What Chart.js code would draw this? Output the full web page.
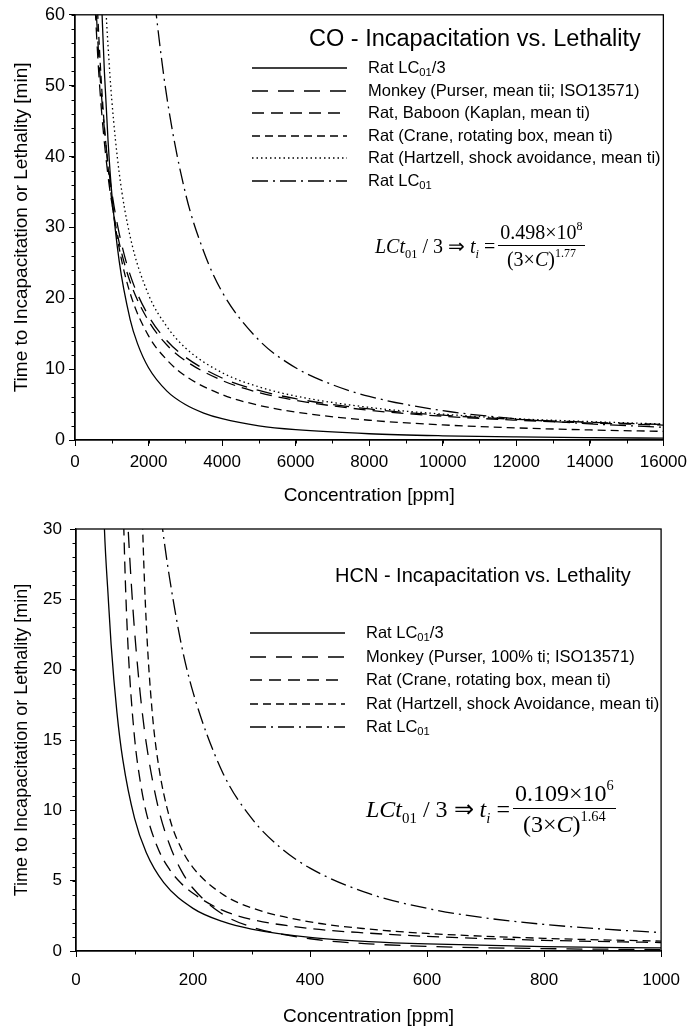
<!DOCTYPE html>
<html>
<head>
<meta charset="utf-8">
<script src="https://cdn.jsdelivr.net/npm/chart.js@4.4.1/dist/chart.umd.min.js"></script>
<style>
  html, body { margin: 0; padding: 0; background: #fff; }
  body { width: 693px; height: 1030px; position: relative; overflow: hidden;
         font-family: 'Liberation Sans', Arial, sans-serif; color: #000; }
  canvas { position: absolute; left: 0; }
  .ttl { position: absolute; white-space: nowrap; line-height: 1; }
  .legend { position: absolute; font-size: 16.5px; line-height: 1; }
  .legend .row { position: absolute; left: 0; white-space: nowrap; height: 18px; }
  .legend svg { position: absolute; left: 0; top: 4px; }
  .legend .lbl { position: absolute; left: 116px; top: 0; }
  .legend sub { font-size: 0.68em; vertical-align: -0.3em; line-height: 0; }
  .eq { position: absolute; font-family: 'Liberation Serif', 'Times New Roman', serif;
        white-space: nowrap; display: flex; align-items: center; line-height: 1.1; }
  .eq sub { font-size: 0.62em; vertical-align: -0.4em; line-height: 0; font-style: normal; }
  .eq i sub { font-style: italic; }
  .eq sup { font-size: 0.6em; vertical-align: 0.75em; line-height: 0; }
  .frac { display: inline-flex; flex-direction: column; align-items: center; margin-left: 3px; }
  .frac .num { border-bottom: 1.2px solid #000; padding: 0 2px 2px 2px; }
  .frac .den { padding-top: 2px; }
</style>
</head>
<body>
<canvas id="coChart" width="693" height="510" style="top:0;width:693px;height:510px"></canvas>
<canvas id="hcnChart" width="693" height="520" style="top:510px;width:693px;height:520px"></canvas>

<div class="ttl" style="left:309px;top:27px;font-size:23.5px">CO - Incapacitation vs. Lethality</div>
<div class="legend" id="coLegend" style="left:252px;top:59px"></div>
<div class="eq" id="coEq" style="left:375px;top:221px;font-size:20px">
  <span><i>LCt</i><sub>01</sub> / 3 ⇒ <i>t<sub>i</sub></i> =</span>
  <span class="frac"><span class="num">0.498×10<sup>8</sup></span><span class="den">(3×<i>C</i>)<sup>1.77</sup></span></span>
</div>

<div class="ttl" style="left:335px;top:565px;font-size:20px">HCN - Incapacitation vs. Lethality</div>
<div class="legend" id="hcnLegend" style="left:250px;top:624px"></div>
<div class="eq" id="hcnEq" style="left:366px;top:780px;font-size:24px">
  <span><i>LCt</i><sub>01</sub> / 3 ⇒ <i>t<sub>i</sub></i> =</span>
  <span class="frac"><span class="num">0.109×10<sup>6</sup></span><span class="den">(3×<i>C</i>)<sup>1.64</sup></span></span>
</div>

<script>
'use strict';

// ── CO DATA (concentration ppm -> time min) ──────────────────────
const coRatLc3X  = [700, 750, 800, 900, 1000, 1200, 1500, 1700, 2000, 2500, 3000, 3500, 4000, 5000, 6000, 8000, 10000, 12000, 14000, 16000];
const coRatLc3Y  = [65, 58.2, 51.9, 42.1, 34.8, 25.3, 17.0, 13.6, 10.2, 6.9, 5.0, 3.8, 3.0, 2.0, 1.46, 0.88, 0.59, 0.43, 0.33, 0.26];

const coMonkeyX  = [550, 583, 650, 750, 900, 1000, 1200, 1500, 2000, 2500, 3000, 4000, 5000, 6000, 8000, 10000, 12000, 14000, 16000];
const coMonkeyY  = [63.6, 60, 53.8, 46.7, 38.9, 35, 29.2, 23.3, 17.5, 14, 11.7, 8.75, 7.0, 5.83, 4.38, 3.5, 2.92, 2.5, 2.19];

const coKaplanX  = [550, 583, 650, 750, 900, 1000, 1200, 1500, 2000, 2500, 3000, 4000, 5000, 6000, 8000, 10000, 12000, 14000, 16000];
const coKaplanY  = [60.9, 57.5, 51.5, 44.7, 37.2, 33.5, 27.9, 22.3, 16.8, 13.4, 11.2, 8.4, 6.7, 5.6, 4.2, 3.35, 2.8, 2.4, 2.1];

const coCraneX   = [600, 620, 700, 800, 1000, 1200, 1500, 2000, 2500, 3000, 4000, 5000, 6000, 8000, 10000, 12000, 14000, 16000];
const coCraneY   = [62.4, 59.9, 51.9, 44.2, 33.8, 27.1, 20.7, 14.7, 11.3, 9.05, 6.4, 4.9, 3.94, 2.79, 2.13, 1.71, 1.42, 1.22];

const coHartzellX = [820, 850, 900, 1000, 1200, 1500, 2000, 2500, 3000, 4000, 5000, 6000, 8000, 10000, 12000, 14000, 16000];
const coHartzellY = [64, 60, 55.5, 48, 37.8, 28.7, 20.5, 16.0, 13.0, 9.5, 7.5, 6.2, 4.6, 3.65, 3.0, 2.6, 2.25];

const coLc01X    = [2100, 2200, 2500, 3000, 3500, 4000, 5000, 6000, 7000, 8000, 10000, 12000, 14000, 16000];
const coLc01Y    = [65.7, 60.5, 48.3, 34.9, 26.6, 20.9, 14.1, 10.2, 7.8, 6.15, 4.14, 3.0, 2.28, 1.8];

const coLabels = [
  'Rat LC<sub>01</sub>/3',
  'Monkey (Purser, mean tii; ISO13571)',
  'Rat, Baboon (Kaplan, mean ti)',
  'Rat (Crane, rotating box, mean ti)',
  'Rat (Hartzell, shock avoidance, mean ti)',
  'Rat LC<sub>01</sub>'
];

// ── HCN DATA ─────────────────────────────────────────────────────
const hcnRatLc3X = [45, 48.6, 55, 60, 70, 80, 100, 120, 150, 200, 250, 300, 400, 500, 600, 800, 1000];
const hcnRatLc3Y = [35.0, 30, 25.2, 21.8, 16.95, 13.6, 9.44, 7.0, 4.86, 3.03, 2.10, 1.56, 0.97, 0.67, 0.50, 0.31, 0.22];

const hcnMonkeyX = [85, 89, 95, 100, 110, 120, 140, 160, 180, 200, 250, 300, 400, 500, 600, 800, 1000];
const hcnMonkeyY = [33.5, 30.1, 25.8, 22.8, 18.2, 14.8, 10.3, 7.55, 5.71, 4.46, 2.63, 1.71, 0.87, 0.51, 0.33, 0.17, 0.10];

const hcnCraneX  = [80, 82, 85, 90, 100, 110, 120, 140, 160, 180, 200, 250, 300, 400, 500, 600, 800, 1000];
const hcnCraneY  = [33.1, 29.6, 25.5, 20.8, 15.2, 12.0, 9.86, 7.3, 5.79, 4.8, 4.1, 2.9, 2.25, 1.6, 1.27, 1.04, 0.76, 0.6];

const hcnHartzellX = [110, 114, 120, 130, 140, 160, 180, 200, 250, 300, 400, 500, 600, 800, 1000];
const hcnHartzellY = [37, 30, 23.4, 17.1, 13.5, 9.46, 7.29, 5.93, 4.05, 3.07, 2.07, 1.56, 1.25, 0.9, 0.7];

const hcnLc01X   = [140, 148, 160, 180, 200, 250, 300, 350, 400, 500, 600, 700, 800, 900, 1000];
const hcnLc01Y   = [32.9, 30, 26.5, 21.8, 18.4, 12.75, 9.44, 7.33, 5.89, 4.09, 3.03, 2.35, 1.89, 1.56, 1.31];

const hcnLabels = [
  'Rat LC<sub>01</sub>/3',
  'Monkey (Purser, 100% ti; ISO13571)',
  'Rat (Crane, rotating box, mean ti)',
  'Rat (Hartzell, shock Avoidance, mean ti)',
  'Rat LC<sub>01</sub>'
];

// ── LINE STYLES ──────────────────────────────────────────────────
const DASH = {
  solid:   [],
  long:    [16, 10],
  medium:  [12, 7],
  short:   [8, 5],
  dot:     [1.5, 3],
  dashDot: [16, 5, 2, 5]
};
const LINE_W = 1.3;
const FONT = "'Liberation Sans', Arial, sans-serif";

Chart.defaults.font.family = FONT;
Chart.defaults.color = '#000';

function pts(xs, ys) {
  return xs.map((x, i) => ({ x, y: ys[i] }));
}

function series(label, xs, ys, dash) {
  return {
    label: label.replace(/<\/?sub>/g, ''),
    data: pts(xs, ys),
    borderColor: '#000',
    borderWidth: LINE_W,
    borderDash: dash,
    pointRadius: 0,
    showLine: true,
    fill: false,
    cubicInterpolationMode: 'monotone'
  };
}

// ── MINOR TICKS + FRAME ──────────────────────────────────────────
const frameTicks = {
  id: 'frameTicks',
  afterDraw(chart, args, opts) {
    const { ctx, chartArea: a } = chart;
    ctx.save();
    ctx.strokeStyle = '#000';
    ctx.lineWidth = 1;
    ['x', 'y'].forEach(id => {
      const s = chart.scales[id];
      const step = opts[id];
      for (let v = s.min; v <= s.max + 1e-9; v += step) {
        const p = Math.round(s.getPixelForValue(v)) + 0.5;
        ctx.beginPath();
        if (id === 'x') { ctx.moveTo(p, a.bottom); ctx.lineTo(p, a.bottom + opts.len); }
        else { ctx.moveTo(a.left, p); ctx.lineTo(a.left - opts.len, p); }
        ctx.stroke();
      }
    });
    ctx.lineWidth = 1.3;
    ctx.strokeRect(a.left, a.top, a.right - a.left, a.bottom - a.top);
    ctx.restore();
  }
};

function axis(opt) {
  return {
    type: 'linear',
    min: opt.min,
    max: opt.max,
    border: { display: true, color: '#000', width: 1.3 },
    grid: { display: true, drawOnChartArea: false, drawTicks: true, tickLength: 6, tickColor: '#000', tickWidth: 1 },
    ticks: {
      stepSize: opt.step, autoSkip: false, maxRotation: 0, padding: opt.pad,
      font: { size: opt.tickSize }, color: '#000',
      callback: v => String(v)
    },
    title: { display: true, text: opt.title, font: { size: opt.titleSize }, padding: opt.titlePad, color: '#000' },
    afterFit(scale) {
      if (opt.width) scale.width = opt.width;
      if (opt.height) scale.height = opt.height;
    }
  };
}

function makeChart(id, datasets, cfg) {
  const ctx = document.getElementById(id).getContext('2d');
  return new Chart(ctx, {
    type: 'scatter',
    data: { datasets },
    options: {
      responsive: false,
      animation: false,
      devicePixelRatio: 1,
      layout: { padding: cfg.padding },
      plugins: {
        legend: { display: false },
        tooltip: { enabled: false },
        frameTicks: cfg.minor
      },
      scales: { x: axis(cfg.x), y: axis(cfg.y) }
    },
    plugins: [frameTicks]
  });
}

function buildLegend(elId, labels, dashes, rowGap) {
  const box = document.getElementById(elId);
  labels.forEach((lab, i) => {
    const row = document.createElement('div');
    row.className = 'row';
    row.style.top = (i * rowGap) + 'px';
    const dash = dashes[i].length ? dashes[i].join(' ') : 'none';
    row.innerHTML =
      '<svg width="95" height="10"><line x1="0" y1="5" x2="95" y2="5" stroke="#000" stroke-width="' + LINE_W +
      '" stroke-dasharray="' + dash + '"/></svg><span class="lbl">' + lab + '</span>';
    box.appendChild(row);
  });
}

// ── CO CHART ─────────────────────────────────────────────────────
const coDash = [DASH.solid, DASH.long, DASH.medium, DASH.short, DASH.dot, DASH.dashDot];
makeChart('coChart', [
  series(coLabels[0], coRatLc3X, coRatLc3Y, coDash[0]),
  series(coLabels[1], coMonkeyX, coMonkeyY, coDash[1]),
  series(coLabels[2], coKaplanX, coKaplanY, coDash[2]),
  series(coLabels[3], coCraneX, coCraneY, coDash[3]),
  series(coLabels[4], coHartzellX, coHartzellY, coDash[4]),
  series(coLabels[5], coLc01X, coLc01Y, coDash[5])
], {
  padding: { top: 13, right: 25, left: 0, bottom: 0 },
  minor: { x: 1000, y: 2, len: 3.5 },
  x: { min: 0, max: 16000, step: 2000, pad: 6, tickSize: 17, title: 'Concentration [ppm]', titleSize: 19,
       titlePad: { top: 0, bottom: 3 }, height: 70 },
  y: { min: 0, max: 60, step: 10, pad: 4, tickSize: 18, title: 'Time to Incapacitation or Lethality [min]', titleSize: 19,
       titlePad: { top: 10, bottom: 0 }, width: 75 }
});
buildLegend('coLegend', coLabels, coDash, 22.6);

// ── HCN CHART ────────────────────────────────────────────────────
const hcnDash = [DASH.solid, DASH.long, DASH.medium, DASH.short, DASH.dashDot];
makeChart('hcnChart', [
  series(hcnLabels[0], hcnRatLc3X, hcnRatLc3Y, hcnDash[0]),
  series(hcnLabels[1], hcnMonkeyX, hcnMonkeyY, hcnDash[1]),
  series(hcnLabels[2], hcnCraneX, hcnCraneY, hcnDash[2]),
  series(hcnLabels[3], hcnHartzellX, hcnHartzellY, hcnDash[3]),
  series(hcnLabels[4], hcnLc01X, hcnLc01Y, hcnDash[4])
], {
  padding: { top: 19, right: 24, left: 0, bottom: 0 },
  minor: { x: 100, y: 1, len: 3.5 },
  x: { min: 0, max: 1000, step: 200, pad: 13, tickSize: 17, title: 'Concentration [ppm]', titleSize: 19,
       titlePad: { top: 0, bottom: 2 }, height: 79 },
  y: { min: 0, max: 30, step: 5, pad: 8, tickSize: 17, title: 'Time to Incapacitation or Lethality [min]', titleSize: 18,
       titlePad: { top: 11, bottom: 0 }, width: 76 }
});
buildLegend('hcnLegend', hcnLabels, hcnDash, 23.5);
</script>
</body>
</html>
